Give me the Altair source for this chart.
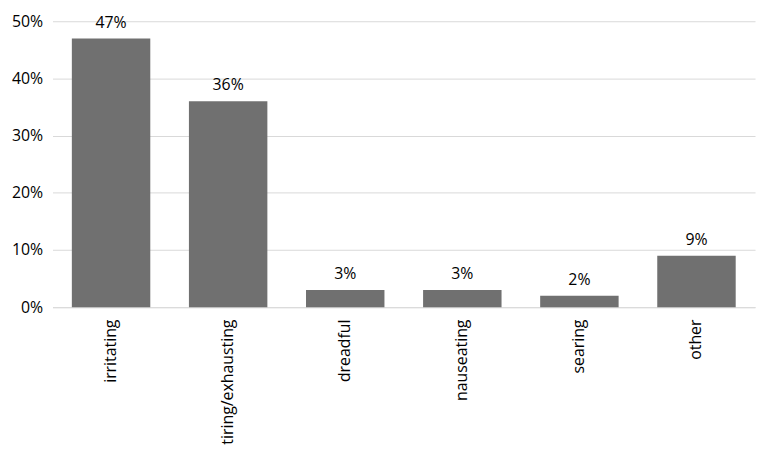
import altair as alt
import pandas as pd

categories = ["irritating", "tiring/exhausting", "dreadful", "nauseating", "searing", "other"]
values = [0.47, 0.36, 0.03, 0.03, 0.02, 0.09]

df = pd.DataFrame({"cat": categories, "val": values})
df["label"] = [f"{round(v*100)}%" for v in values]

FONT = "Open Sans"
FS = 16

base = alt.Chart(df).encode(
    x=alt.X("cat:N", sort=categories, title=None,
            scale=alt.Scale(paddingInner=0.33, paddingOuter=0.165),
            axis=alt.Axis(labelAngle=-90, labelFont=FONT, labelFontSize=FS,
                          labelColor="#000000", ticks=False, domain=True,
                          domainColor="#d9d9d9", labelPadding=12, labelAlign="right",
                          labelBaseline="middle", labelLimit=300)),
    y=alt.Y("val:Q", title=None,
            scale=alt.Scale(domain=[0, 0.5], nice=False),
            axis=alt.Axis(format=".0%", values=[0, 0.1, 0.2, 0.3, 0.4, 0.5],
                          labelFont=FONT, labelFontSize=FS, labelColor="#000000",
                          ticks=False, domain=False, gridColor="#d9d9d9",
                          labelPadding=10)),
)

bars = base.mark_bar(color="#707070")
text = base.mark_text(dy=-8, baseline="bottom", font=FONT, fontSize=FS, color="#000000").encode(
    text="label:N")

chart = (bars + text).properties(
    width=710, height=289,
    autosize=alt.AutoSizeParams(type="none"),
    padding={"left": 45, "top": 11, "right": 2, "bottom": 145},
).configure_view(stroke=None).configure_axisX(grid=False)

chart.save("out.html", embed_options={"renderer": "svg", "actions": False})
